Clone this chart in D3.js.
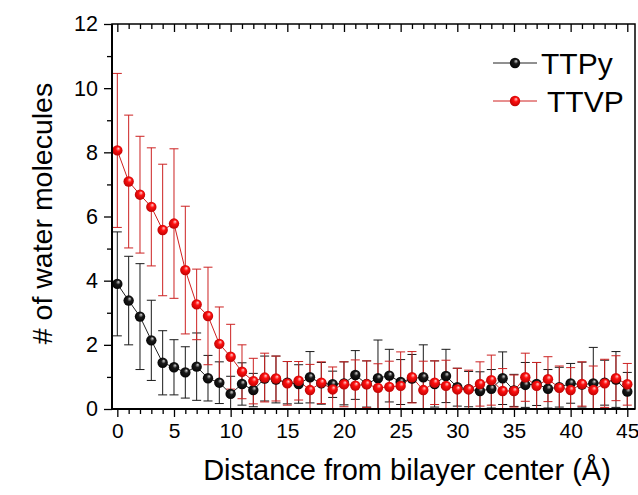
<!DOCTYPE html>
<html><head><meta charset="utf-8">
<script src="https://cdn.jsdelivr.net/npm/d3@7"></script>
<style>body{margin:0;background:#fff}svg{display:block}text{font-family:Arial,"Liberation Sans",sans-serif}</style>
</head><body>
<script>
const distance = d3.range(0, 46);
const ttpy = [3.90,3.38,2.88,2.14,1.44,1.30,1.14,1.32,0.96,0.82,0.47,0.78,0.59,0.95,0.92,0.82,0.78,0.99,0.80,0.77,0.80,1.06,0.78,0.96,1.04,0.84,0.95,0.99,0.78,1.03,0.68,0.62,0.56,0.63,0.96,0.58,0.75,0.78,0.63,0.68,0.80,0.76,0.80,0.82,0.92,0.54];
const ttpyErr = [1.62,1.38,1.65,1.25,1.00,0.86,0.80,1.05,0.71,0.65,0.55,0.66,0.52,0.70,0.73,0.66,0.60,0.80,0.65,0.41,0.67,0.76,0.72,1.19,0.82,0.70,0.75,1.01,0.72,0.83,0.59,0.55,0.60,0.60,0.82,0.50,0.70,0.67,0.60,0.62,0.62,0.70,1.12,0.70,0.87,0.60];
const ttvp = [8.06,7.09,6.68,6.30,5.58,5.78,4.33,3.26,2.90,2.03,1.63,1.16,0.87,0.98,0.95,0.80,0.88,0.59,0.82,0.61,0.77,0.73,0.77,0.66,0.69,0.72,0.99,0.59,0.82,0.72,0.61,0.61,0.78,0.90,0.56,0.56,0.99,0.72,0.93,0.66,0.59,0.78,0.59,0.80,0.96,0.77];
const ttvpErr = [2.40,2.07,1.82,1.84,2.05,2.33,1.99,1.10,1.52,1.15,1.01,0.84,0.71,0.76,0.70,0.68,0.60,0.80,0.65,0.70,0.70,0.80,0.73,0.75,0.80,1.06,0.80,0.90,0.68,0.80,0.66,0.60,0.69,0.78,0.70,0.50,0.75,0.73,0.70,0.68,0.70,0.69,0.75,0.75,0.70,0.65];
const xTicks = [0,5,10,15,20,25,30,35,40,45];
const yTicks = [0,2,4,6,8,10,12];
const seriesNames = ["TTPy","TTVP"];

const W = 638, H = 495;
const L = 112, R = 635, T = 24, B = 409;
const svg = d3.select("body").append("svg").attr("width", W).attr("height", H);
const x = d3.scaleLinear().domain([-0.47, 45.68]).range([L, R]);
const y = d3.scaleLinear().domain([0, 12]).range([B, T]);

const defs = svg.append("defs");
function grad(id, c0, c1, c2) {
  const g = defs.append("radialGradient").attr("id", id).attr("cx", "50%").attr("cy", "50%").attr("r", "60%").attr("fx", "62%").attr("fy", "30%");
  g.append("stop").attr("offset", "0%").attr("stop-color", c0);
  g.append("stop").attr("offset", "35%").attr("stop-color", c1);
  g.append("stop").attr("offset", "100%").attr("stop-color", c2);
}
grad("gBlack", "#d8d8d8", "#1a1a1a", "#000");
grad("gRed", "#ffd0d0", "#ff1010", "#b00000");
defs.append("clipPath").attr("id", "clip").append("rect").attr("x", L).attr("y", T).attr("width", R - L).attr("height", B - T);

// axes
const tickLen = 8, minorLen = 5;
const gx = svg.append("g").attr("transform", `translate(0,${B})`)
  .call(d3.axisBottom(x).tickValues(d3.range(0, 46)).tickSize(minorLen).tickFormat(""));
gx.select(".domain").remove();
gx.selectAll(".tick line").attr("stroke", "#000").attr("stroke-width", 1.3)
  .attr("y2", d => d % 5 === 0 ? tickLen : minorLen);
const gxl = svg.append("g").attr("transform", `translate(0,${B})`)
  .call(d3.axisBottom(x).tickValues(xTicks).tickSize(0).tickPadding(14).tickFormat(d3.format("d")));
gxl.select(".domain").remove();
gxl.selectAll("text").attr("font-size", 21).attr("fill", "#000").attr("font-family", "Arial, 'Liberation Sans', sans-serif");

const gxt = svg.append("g").attr("transform", `translate(0,${T})`)
  .call(d3.axisBottom(x).tickValues(d3.range(0, 46)).tickSize(minorLen).tickFormat(""));
gxt.select(".domain").remove();
gxt.selectAll(".tick line").attr("stroke", "#000").attr("stroke-width", 1.3)
  .attr("y2", d => d % 5 === 0 ? tickLen : minorLen);

const gy = svg.append("g").attr("transform", `translate(${L},0)`)
  .call(d3.axisLeft(y).tickValues(d3.range(0, 13)).tickSize(minorLen).tickFormat(""));
gy.select(".domain").remove();
gy.selectAll(".tick line").attr("stroke", "#000").attr("stroke-width", 1.3)
  .attr("x2", d => d % 2 === 0 ? -tickLen : -minorLen);
const gyl = svg.append("g").attr("transform", `translate(${L},0)`)
  .call(d3.axisLeft(y).tickValues(yTicks).tickSize(0).tickPadding(14).tickFormat(d3.format("d")));
gyl.select(".domain").remove();
gyl.selectAll("text").attr("font-size", 21.5).attr("fill", "#000").attr("font-family", "Arial, 'Liberation Sans', sans-serif");

// data
const plot = svg.append("g").attr("clip-path", "url(#clip)");
function drawSeries(vals, errs, lineCol, errCol) {
  const pts = distance.map((d, i) => ({x: d, y: vals[i], e: errs[i]}));
  const eb = plot.append("g").attr("stroke", errCol).attr("stroke-width", 1).attr("fill", "none");
  pts.forEach(p => {
    const cx = x(p.x), y1 = y(p.y + p.e), y0 = y(p.y - p.e);
    eb.append("line").attr("x1", cx).attr("x2", cx).attr("y1", y1).attr("y2", y0);
    eb.append("line").attr("x1", cx - 4.5).attr("x2", cx + 4.5).attr("y1", y1).attr("y2", y1);
    eb.append("line").attr("x1", cx - 4.5).attr("x2", cx + 4.5).attr("y1", y0).attr("y2", y0);
  });
  plot.append("path").datum(pts).attr("fill", "none").attr("stroke", lineCol).attr("stroke-width", 1)
    .attr("d", d3.line().x(d => x(d.x)).y(d => y(d.y)));
  return pts;
}
const pB = drawSeries(ttpy, ttpyErr, "#222", "#1a1a1a");
const pR = drawSeries(ttvp, ttvpErr, "#d02020", "#cc2222");
function drawMarkers(pts, gradId) {
  plot.append("g").selectAll("circle").data(pts).join("circle")
    .attr("cx", d => x(d.x)).attr("cy", d => y(d.y)).attr("r", 5.2).attr("fill", `url(#${gradId})`);
}
drawMarkers(pB, "gBlack");
drawMarkers(pR, "gRed");

// frame
svg.append("rect").attr("x", L).attr("y", T).attr("width", R - L).attr("height", B - T)
  .attr("fill", "none").attr("stroke", "#000").attr("stroke-width", 1.5);
svg.append("line").attr("x1", L).attr("x2", L).attr("y1", T).attr("y2", B + 1).attr("stroke", "#000").attr("stroke-width", 2);
svg.append("line").attr("x1", L - 1).attr("x2", R).attr("y1", B).attr("y2", B).attr("stroke", "#000").attr("stroke-width", 2);

// legend
const legend = [
  {name: seriesNames[0], y: 63, line: "#222", g: "gBlack", tx: 541},
  {name: seriesNames[1], y: 101, line: "#d02020", g: "gRed", tx: 547}
];
legend.forEach(l => {
  svg.append("line").attr("x1", 493).attr("x2", 537).attr("y1", l.y).attr("y2", l.y).attr("stroke", l.line).attr("stroke-width", 1);
  svg.append("circle").attr("cx", 515).attr("cy", l.y).attr("r", 5.2).attr("fill", `url(#${l.g})`);
  svg.append("text").attr("x", l.tx).attr("y", l.y + 10.5).attr("font-size", 30).text(l.name);
});

// titles
svg.append("text").attr("x", 407).attr("y", 480).attr("text-anchor", "middle").attr("font-size", 29).text("Distance from bilayer center (Å)");
svg.append("text").attr("transform", `translate(52,${(T + B) / 2 - 3}) rotate(-90)`).attr("text-anchor", "middle").attr("font-size", 28.5).text("# of water molecules");
</script>
</body></html>
